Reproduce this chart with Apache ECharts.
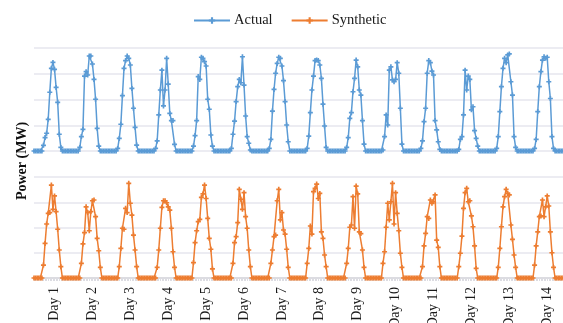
<!DOCTYPE html>
<html>
<head>
<meta charset="utf-8">
<script src="https://cdn.jsdelivr.net/npm/echarts@6/dist/echarts.min.js"></script>
<style>
html,body{margin:0;padding:0;background:#fff;}
#chart{width:563px;height:323px;}
</style>
</head>
<body>
<div id="chart"></div>
<script>
// ---- Data (hourly power, 24 values per day, arbitrary MW scale 0-40) ----
const dayLabels = ['Day 1','Day 2','Day 3','Day 4','Day 5','Day 6','Day 7','Day 8','Day 9','Day 10','Day 11','Day 12','Day 13','Day 14'];
const seriesNames = ['Actual', 'Synthetic'];

const actualDays = [
  [0,0,0,0,0,0,2.2,5.2,6.9,12.3,22.8,32.1,34.4,31.7,24.7,18.9,6.5,1.4,0,0,0,0,0,0],
  [0,0,0,0,0,1.4,5.6,8.4,29.1,30.8,29.5,36.9,36.9,33.8,27.8,20.1,8.8,1.9,0,0,0,0,0,0],
  [0,0,0,0,0,1.0,4.9,10.4,21.5,32.1,35.1,36.9,36.0,33.4,24.3,16.6,9.2,2.3,0,0,0,0,0,0],
  [0,0,0,0,0,1.0,3.9,14.0,23.7,31.4,17.5,23.7,36.0,26.0,14.6,11.8,11.8,2.6,0,0,0,0,0,0],
  [0,0,0,0,0,1.9,6.0,11.8,28.9,27.8,36.4,36.0,34.7,33.0,20.1,16.2,6.2,1.9,0,0,0,0,0,0],
  [0,0,0,0,0,1.0,6.5,11.6,19.2,25.0,27.8,26.5,36.6,25.6,13.6,5.6,3.0,0.4,0,0,0,0,0,0],
  [0,0,0,0,0,1.0,4.5,15.5,23.9,30.2,34.0,36.4,36.0,33.0,27.3,19.2,10.1,3.6,0,0,0,0,0,0],
  [0,0,0,0,0,1.0,5.8,14.9,23.7,29.1,35.1,35.3,35.1,33.4,28.2,18.2,9.7,1.4,0,0,0,0,0,0],
  [0,0,0,0,0,0,1.4,5.2,12.7,14.9,23.0,28.2,35.3,32.7,23.7,21.7,11.8,2.7,0,0,0,0,0,0],
  [0,0,0,0,0,0.4,5.6,14.0,10.1,31.4,32.7,27.6,26.9,27.8,34.3,30.2,16.6,2.7,0,0,0,0,0,0],
  [0,0,0,0,0,1.0,3.9,11.4,16.6,30.2,35.1,34.3,31.0,29.5,11.8,8.2,3.6,0.6,0,0,0,0,0,0],
  [0,0,0,0,0,0.6,4.5,5.6,14.0,31.4,23.7,29.1,27.8,16.0,17.2,7.9,4.9,1.9,0,0,0,0,0,0],
  [0,0,0,0,0,1.0,5.6,15.3,25.0,32.1,36.0,34.3,37.3,37.7,26.9,21.7,5.6,1.4,0,0,0,0,0,0],
  [0,0,0,0,0,1.0,4.5,15.3,25.0,30.8,35.3,36.6,36.0,36.4,26.9,20.4,5.6,1.0,0,0,0,0,0,0]
];

const syntheticDays = [
  [0,0,0,0,0,0,5.1,13.7,21.4,25.6,25.9,36.8,27.2,32.5,26.3,19.3,11.1,4.5,0,0,0,0,0,0],
  [0,0,0,0,0,0,5.8,13.5,18.0,28.2,25.9,18.7,26.3,30.6,30.9,24.3,15.7,10.8,4.2,0,0,0,0,0],
  [0,0,0,0,0,0,4.5,11.7,19.7,19.3,27.6,25.9,37.5,29.6,24.9,17.0,11.1,4.5,0,0,0,0,0,0],
  [0,0,0,0,0,0,4.2,11.1,19.7,28.0,30.6,30.6,29.8,28.2,26.9,19.7,10.4,4.2,0,0,0,0,0,0],
  [0,0,0,0,0,6.1,14.0,18.7,22.3,23.2,31.9,33.3,36.8,31.5,23.6,15.7,11.4,3.6,0,0,0,0,0,0],
  [0,0,0,0,0,0,5.8,14.0,16.4,21.9,35.1,31.2,27.2,33.8,24.3,19.7,11.1,4.5,0,0,0,0,0,0],
  [0,0,0,0,0,0,5.8,11.1,16.4,17.0,30.6,35.1,23.0,25.9,19.0,17.4,11.4,4.2,0,0,0,0,0,0],
  [0,0,0,0,0,5.8,11.7,20.6,17.4,34.2,35.5,37.2,31.5,33.5,18.3,15.7,9.1,4.5,0,0,0,0,0,0],
  [0,0,0,0,0,0,5.8,11.7,20.1,21.0,32.2,19.7,36.4,33.3,18.3,17.6,11.1,4.2,0,0,0,0,0,0],
  [0,0,0,0,0,5.8,10.4,20.1,29.6,23.0,30.2,37.5,21.4,33.8,25.6,18.7,9.8,4.2,0,0,0,0,0,0],
  [0,0,0,0,0,0,4.5,12.7,17.7,24.3,23.6,30.9,29.6,30.2,32.9,15.0,12.1,4.5,0,0,0,0,0,0],
  [0,0,0,0,0,4.5,9.8,16.6,27.6,33.8,35.5,30.2,30.6,24.6,20.3,12.7,3.8,0,0,0,0,0,0,0],
  [0,0,0,0,0,0,4.2,11.7,20.3,28.2,32.2,35.1,33.5,32.9,21.0,15.3,9.1,4.2,0,0,0,0,0,0],
  [0,0,0,0,0,5.1,12.7,18.3,24.3,24.6,30.9,24.3,28.2,32.5,28.5,18.3,10.0,4.2,0,0,0,0,0,0]
];

// ---- Build chart ----
const actual = actualDays.flat();
const synthetic = syntheticDays.flat();
const categories = actual.map((_, i) => String(i));
const labelHour = 13;

const blue = '#5b9bd5';
const orange = '#ed7d31';
const serif = '"Times New Roman", "Liberation Serif", serif';
const plus = 'path://M2,0H4V2H6V4H4V6H2V4H0V2H2Z';

const chart = echarts.init(document.getElementById('chart'), null, {renderer: 'canvas'});

const yAxisBase = {
  type: 'value', min: 0, max: 40, interval: 10,
  axisLabel: {show: false}, axisLine: {show: false}, axisTick: {show: false},
  splitLine: {show: true, lineStyle: {color: '#e6e6ee', width: 1.5}}
};

chart.setOption({
  animation: false,
  backgroundColor: '#fff',
  legend: {
    left: 193, top: 13, padding: 0,
    itemWidth: 36, itemHeight: 8, itemGap: 18,
    textStyle: {fontFamily: serif, fontSize: 14.5, color: '#1a1a1a', padding: [0,0,0,-1]},
    data: seriesNames
  },
  graphic: [{
    type: 'text', x: 22, y: 161, rotation: Math.PI / 2,
    style: {text: 'Power (MW)', font: 'bold 14px ' + serif, fill: '#111', align: 'center', verticalAlign: 'middle'}
  }],
  grid: [
    {left: 34, right: 0, top: 48, height: 103, outerBoundsMode: 'none', containLabel: false},
    {left: 34, right: 0, top: 177, height: 101, outerBoundsMode: 'none', containLabel: false}
  ],
  xAxis: [
    {gridIndex: 0, type: 'category', data: categories, boundaryGap: false,
     axisLine: {show: false}, axisTick: {show: false}, axisLabel: {show: false}, splitLine: {show: false}},
    {gridIndex: 1, type: 'category', data: categories, boundaryGap: false,
     axisLine: {show: true, lineStyle: {color: '#d6d6dc', width: 1.5}},
     axisTick: {show: true, interval: 0, length: 3, lineStyle: {color: '#dcdce2'}},
     axisLabel: {
       show: true, rotate: 90, margin: 9,
       interval: (idx) => idx % 24 === labelHour,
       formatter: (val, idx) => dayLabels[Math.floor(idx / 24)],
       fontFamily: serif, fontSize: 14, color: '#1a1a1a'
     },
     splitLine: {show: false}}
  ],
  yAxis: [
    Object.assign({gridIndex: 0}, yAxisBase),
    Object.assign({gridIndex: 1}, yAxisBase)
  ],
  series: [
    {name: seriesNames[0], type: 'line', xAxisIndex: 0, yAxisIndex: 0, data: actual,
     symbol: plus, symbolSize: 5, showAllSymbol: true,
     lineStyle: {color: blue, width: 1.5}, itemStyle: {color: blue}},
    {name: seriesNames[1], type: 'line', xAxisIndex: 1, yAxisIndex: 1, data: synthetic,
     symbol: plus, symbolSize: 5, showAllSymbol: true,
     lineStyle: {color: orange, width: 1.5}, itemStyle: {color: orange}}
  ]
});
</script>
</body>
</html>
